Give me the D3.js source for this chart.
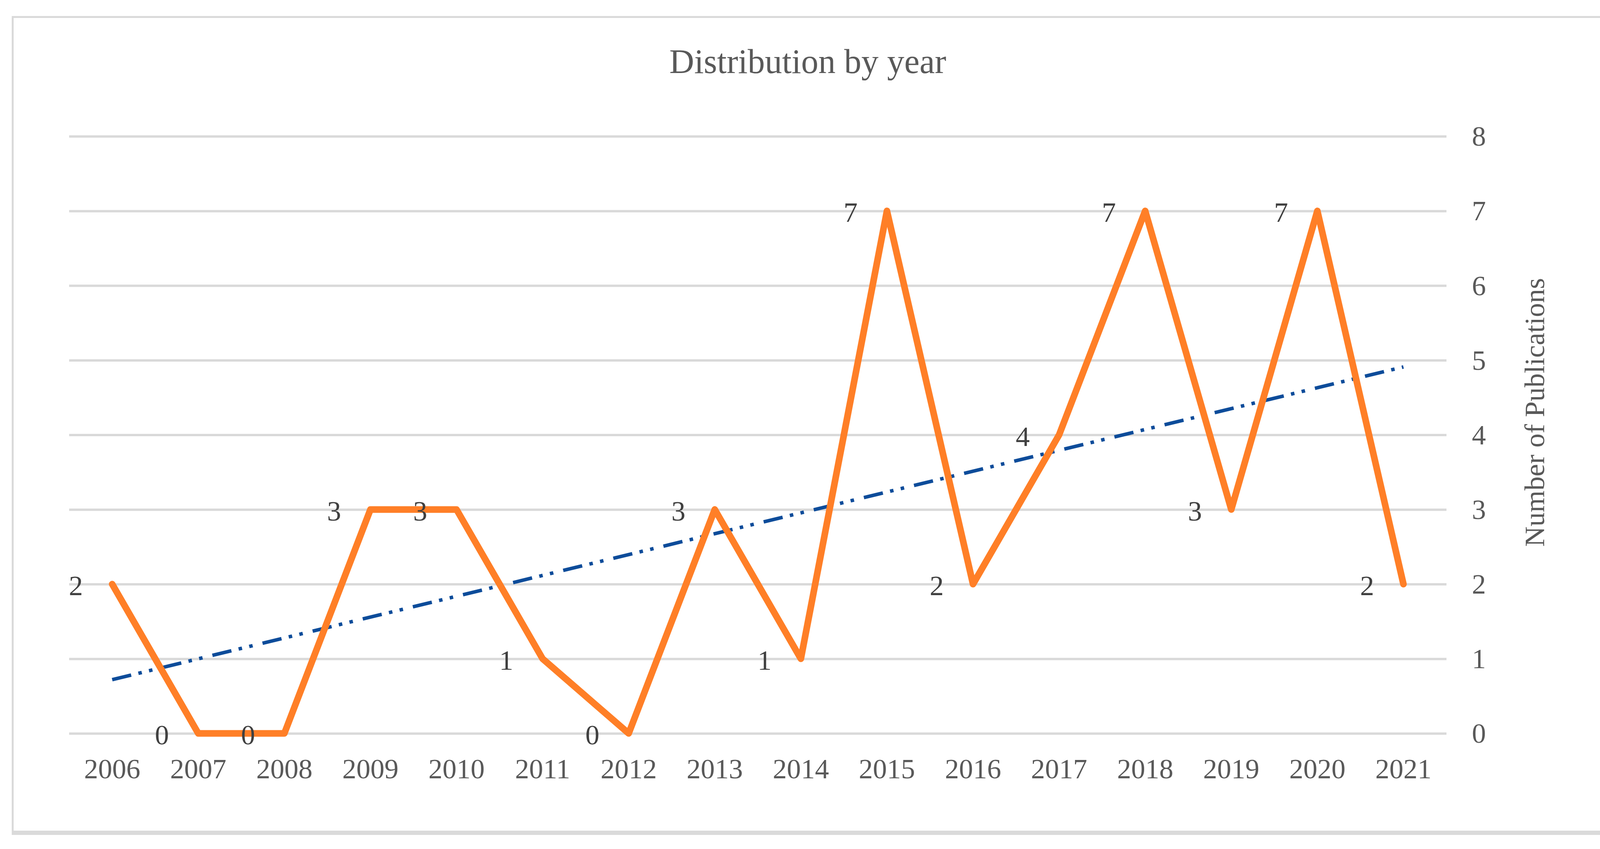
<!DOCTYPE html>
<html>
<head>
<meta charset="utf-8">
<script src="https://cdn.jsdelivr.net/npm/d3@7"></script>
<style>
  html, body { margin: 0; padding: 0; background: #ffffff; }
  svg { display: block; }
  text { font-family: "Liberation Serif", "DejaVu Serif", serif; }
</style>
</head>
<body>
<svg id="chart" width="4146" height="2174"></svg>
<script>
// ---- data ----
const years = ["2006","2007","2008","2009","2010","2011","2012","2013","2014","2015","2016","2017","2018","2019","2020","2021"];
const publications = [2,0,0,3,3,1,0,3,1,7,2,4,7,3,7,2];
const trendYears = ["2006","2021"];
const trendValues = [0.72, 4.91];
const yTicks = [0,1,2,3,4,5,6,7,8];
const chartTitle = "Distribution by year";
const yAxisTitle = "Number of Publications";

// ---- layout ----
const W = 4146, H = 2174;
const plotLeft = 177, plotRight = 3703, plotTop = 349, plotBottom = 1878;
const textGray = "#595959";
const gridGray = "#D9D9D9";
const orange = "#FF7F27";
const trendBlue = "#0D4C9A";

const svg = d3.select("#chart");

// background + frame
svg.append("rect").attr("x",0).attr("y",0).attr("width",W).attr("height",H).attr("fill","#ffffff");
svg.append("rect").attr("x",30).attr("y",41).attr("width",4117-30).attr("height",2138-41).attr("fill","#DADADA");
svg.append("rect").attr("x",35).attr("y",46).attr("width",4109-35).attr("height",2127-46).attr("fill","#ffffff");

const x = d3.scaleBand().domain(years).range([plotLeft, plotRight]).padding(0);
const cx = d => x(d) + x.bandwidth() / 2;
const y = d3.scaleLinear().domain([0, 8]).range([plotBottom, plotTop]);

// gridlines
const grid = svg.append("g")
  .attr("transform", `translate(${plotLeft},0)`)
  .call(d3.axisRight(y).tickValues(yTicks).tickSize(plotRight - plotLeft).tickFormat(""));
grid.select(".domain").remove();
grid.selectAll(".tick line").attr("stroke", gridGray).attr("stroke-width", 6);

// right axis labels
const yAxis = svg.append("g")
  .attr("transform", `translate(${plotRight},0)`)
  .call(d3.axisRight(y).tickValues(yTicks).tickSize(0).tickPadding(83).tickFormat(d3.format("d")));
yAxis.select(".domain").remove();
yAxis.selectAll(".tick text")
  .attr("fill", textGray)
  .attr("font-size", 72)
  .attr("text-anchor", "middle")
  .attr("dy", "0.33em")
  .style("font-family", '"Liberation Serif", serif');

// bottom axis labels
const xAxis = svg.append("g")
  .attr("transform", `translate(0,${plotBottom})`)
  .call(d3.axisBottom(x).tickSize(0).tickPadding(64));
xAxis.select(".domain").remove();
xAxis.selectAll(".tick text")
  .attr("fill", textGray)
  .attr("font-size", 72)
  .style("font-family", '"Liberation Serif", serif');

// trend line
const trendData = trendYears.map((yr, i) => ({year: yr, value: trendValues[i]}));
svg.append("path")
  .datum(trendData)
  .attr("fill", "none")
  .attr("stroke", trendBlue)
  .attr("stroke-width", 9)
  .attr("stroke-dasharray", "50,19,9,19,9,26")
  .attr("d", d3.line().x(d => cx(d.year)).y(d => y(d.value)));

// main series
const series = years.map((yr, i) => ({year: yr, value: publications[i]}));
svg.append("path")
  .datum(series)
  .attr("fill", "none")
  .attr("stroke", orange)
  .attr("stroke-width", 17)
  .attr("stroke-linejoin", "round")
  .attr("stroke-linecap", "round")
  .attr("d", d3.line().x(d => cx(d.year)).y(d => y(d.value)));

// data labels (left of points)
svg.append("g").selectAll("text")
  .data(series)
  .join("text")
  .attr("x", d => cx(d.year) - 93)
  .attr("y", d => y(d.value) + 28)
  .attr("text-anchor", "middle")
  .attr("font-size", 72)
  .attr("fill", "#404040")
  .text(d => d.value);

// title
svg.append("text")
  .attr("x", 2068)
  .attr("y", 187)
  .attr("text-anchor", "middle")
  .attr("font-size", 88)
  .attr("fill", textGray)
  .text(chartTitle);

// y axis title (right side)
svg.append("text")
  .attr("transform", "translate(3931,1056) rotate(-90)")
  .attr("text-anchor", "middle")
  .attr("dy", "0.3em")
  .attr("font-size", 72)
  .attr("fill", textGray)
  .text(yAxisTitle);
</script>
</body>
</html>
